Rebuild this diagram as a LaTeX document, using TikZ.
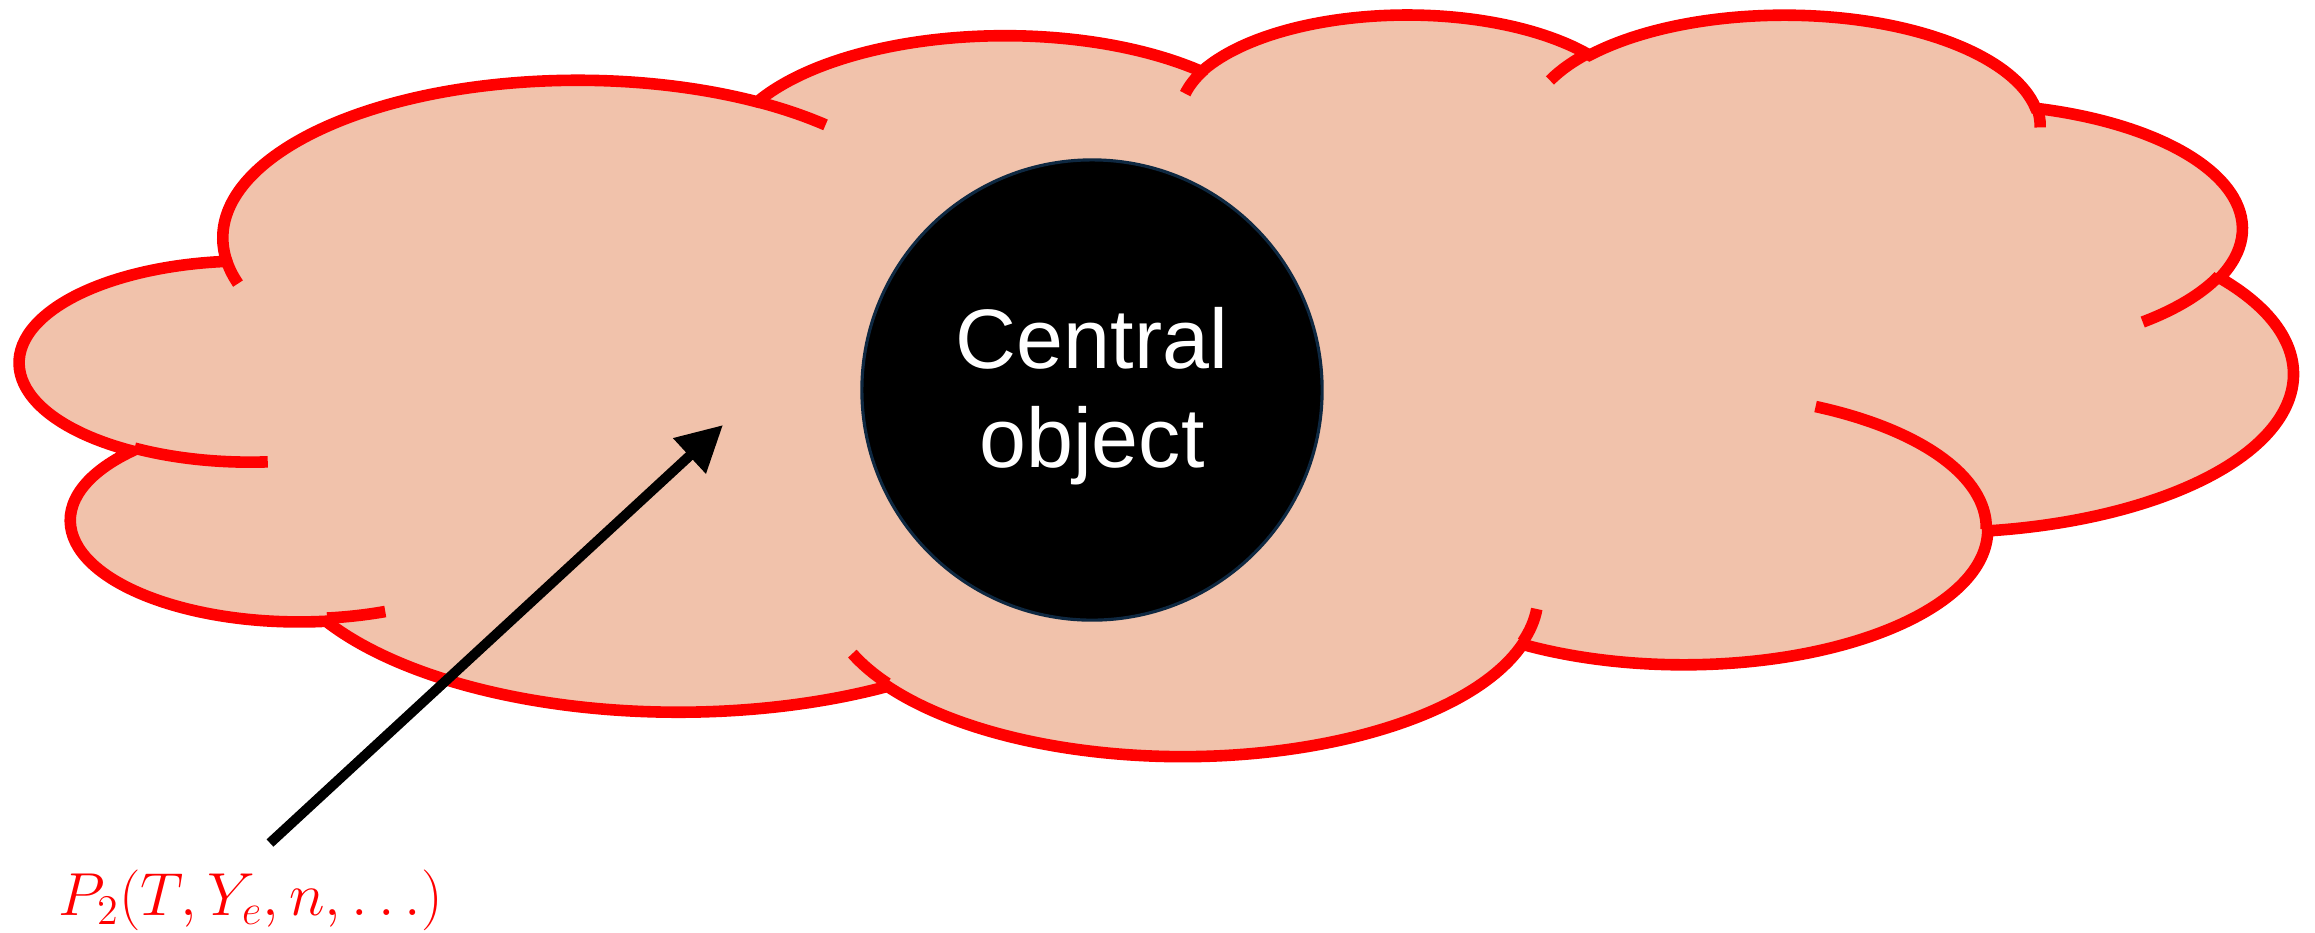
\documentclass[tikz,border=0pt]{standalone}
\usepackage{fontspec}
\usetikzlibrary{arrows.meta}
\newfontfamily\corefont{Liberation Sans}
\definecolor{cloudred}{RGB}{255,0,0}
\definecolor{cloudfill}{RGB}{241,194,171}
\definecolor{corenavy}{RGB}{14,40,65}

\begin{document}
\begin{tikzpicture}[x=0.01cm, y=-0.01cm,
    cloudline/.style={draw=cloudred, line width=3.3pt},
    flow/.style={line width=2.85pt, -{Triangle[length=13pt, width=13pt]}}]
  \useasboundingbox (0,0) rectangle (2315,932);

  % cloud outline, drawn in units of the shape box (432 x 432)
  \begin{scope}[shift={(21,12.62)}, x=0.052545cm, y=-0.017146cm]
    \filldraw[cloudline, fill=cloudfill] (39.00,143.70)
      arc (-187.75:-59.64:67.53 and 91.90)
      arc (-152.02:-45.46:53.33 and 72.67)
      arc (-153.49:-37.33:43.65 and 59.45)
      arc (-139.72:-10.21:48.57 and 65.95)
      arc (-74.77:23.21:53.33 and 72.73)
      arc (-37.53:81.86:67.75 and 92.20)
      arc (0.46:121.98:57.85 and 78.67)
      arc (16.85:146.24:67.52 and 92.15)
      arc (58.99:150.19:77.20 and 105.43)
      arc (-276.69:-136.89:43.60 and 59.18)
      arc (-239.65:-95.89:43.45 and 59.45)
      -- cycle;

    % inner folds
    \draw[cloudline] (46.93,261.77) arc (85.55:120.35:43.45 and 59.45);
    \draw[cloudline] (69.28,348.99) arc (68.24:83.31:43.60 and 59.18);
    \draw[cloudline] (164.78,390.90) arc (146.24:158.47:67.52 and 92.15);
    \draw[cloudline] (288.27,347.51) arc (4.74:16.85:67.52 and 92.15);
    \draw[cloudline] (341.29,229.54) arc (-63.98:0.46:57.85 and 78.67);
    \draw[cloudline] (417.98,153.54) arc (23.21:49.64:53.33 and 72.73);
    \draw[cloudline] (383.24,54.26) arc (-10.21:0.82:48.57 and 65.95);
    \draw[cloudline] (290.78,39.52) arc (-156.28:-139.72:48.57 and 65.95);
    \draw[cloudline] (221.41,47.20) arc (-167.73:-153.49:43.65 and 59.45);
    \draw[cloudline] (140.00,51.92) arc (-59.64:-45.73:67.53 and 91.90);
    \draw[cloudline] (41.27,157.89) arc (163.19:172.25:67.53 and 91.90);
  \end{scope}

  \node[circle, fill=black, draw=corenavy, line width=0.9pt, minimum size=4.6cm]
        (core) at (1092,390) {};
  \node[text=white, align=center, font=\corefont\fontsize{24}{28}\selectfont]
        (coretext) at ([yshift=-0.06cm]core.center) {Central\\object};

  \node[anchor=base west, inner sep=0pt, text=cloudred,
        font=\fontsize{18}{22}\selectfont] (lbl) at (58,915) {$P_2(T, Y_e, n, \ldots)$};

  \coordinate (tail) at (270,843);
  \coordinate (tip) at (723,425);
  \draw[flow] (tail) -- (tip);
\end{tikzpicture}
\end{document}
